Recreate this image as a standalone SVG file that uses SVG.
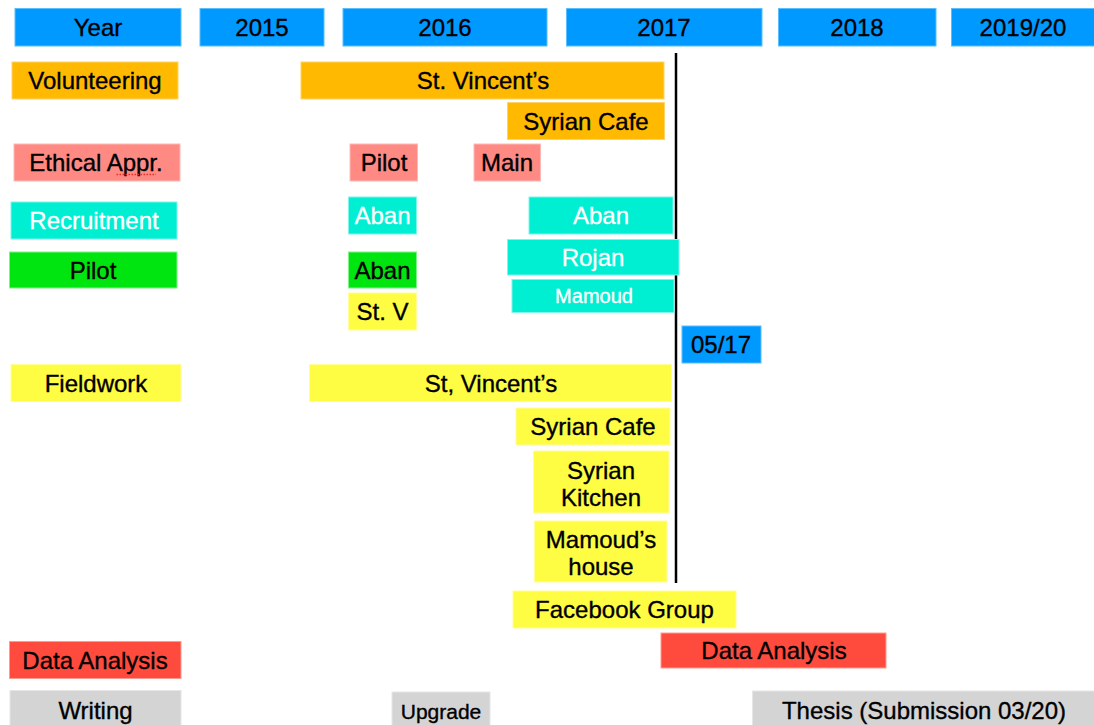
<svg xmlns="http://www.w3.org/2000/svg" width="1094" height="725" viewBox="0 0 1094 725">
<style>
text{font-family:"Liberation Sans",Arial,sans-serif;font-size:24px;text-anchor:middle;fill:#000;stroke:#000;stroke-width:0.35}
.w{fill:#fff;stroke:#fff}
.s{font-size:20px}
.u{font-size:21px}
.blue{fill:#0099FF;stroke:#5BBEFF;stroke-width:1}
.org{fill:#FFB900;stroke:#FFD466;stroke-width:1}
.pink{fill:#FF8A84;stroke:#FFB8B4;stroke-width:1}
.teal{fill:#00EED2;stroke:#7FF6E8;stroke-width:1}
.grn{fill:#00E50F;stroke:#7FF287;stroke-width:1}
.yel{fill:#FFFC44;stroke:#FFFD9A;stroke-width:1}
.red{fill:#FF4B3E;stroke:#FF9A92;stroke-width:1}
.gry{fill:#D4D4D4;stroke:#E6E6E6;stroke-width:1}
</style>
<rect width="1094" height="725" fill="#fff"/>
<g id="header">
<g id="h-year"><rect class="blue" x="15" y="8.5" width="166" height="37.5"/><text x="98" y="35.5">Year</text></g>
<g id="h-2015"><rect class="blue" x="200" y="8.5" width="124" height="37.5"/><text x="262" y="35.5">2015</text></g>
<g id="h-2016"><rect class="blue" x="343" y="8.5" width="204" height="37.5"/><text x="445" y="35.5">2016</text></g>
<g id="h-2017"><rect class="blue" x="566.5" y="8.5" width="195.5" height="37.5"/><text x="664" y="35.5">2017</text></g>
<g id="h-2018"><rect class="blue" x="778.5" y="8.5" width="157.5" height="37.5"/><text x="857" y="35.5">2018</text></g>
<g id="h-2019"><rect class="blue" x="951.5" y="8.5" width="145" height="37.5"/><text x="1023" y="35.5">2019/20</text></g>
</g>
<g id="connectors">
<line x1="676" y1="53" x2="676" y2="583" stroke="#000" stroke-width="2.5"/>
</g>
<g id="volunteering"><rect class="org" x="12" y="62" width="166" height="37"/><text x="95" y="89">Volunteering</text></g>
<g id="vol-stv"><rect class="org" x="301" y="62" width="363" height="37"/><text x="483" y="89">St. Vincent’s</text></g>
<g id="vol-cafe"><rect class="org" x="507.5" y="102.5" width="157" height="37"/><text x="586" y="130">Syrian Cafe</text></g>
<g id="ethical"><rect class="pink" x="14" y="144" width="166" height="37"/><text x="96" y="171">Ethical Appr.</text>
<path d="M116.5 174.5 L156 174.5" stroke="#E0302A" stroke-width="1.6" stroke-dasharray="1.6 1.4" fill="none"/></g>
<g id="eth-pilot"><rect class="pink" x="350" y="144" width="67.5" height="37"/><text x="384" y="171">Pilot</text></g>
<g id="eth-main"><rect class="pink" x="474" y="144" width="66.5" height="37"/><text x="507" y="171">Main</text></g>
<g id="recruitment"><rect class="teal" x="11" y="202" width="166" height="37"/><text class="w" x="94" y="229">Recruitment</text></g>
<g id="rec-aban1"><rect class="teal" x="348.5" y="197" width="68" height="37"/><text class="w" x="382.5" y="224">Aban</text></g>
<g id="rec-aban2"><rect class="teal" x="529" y="197" width="144" height="37"/><text class="w" x="601" y="224">Aban</text></g>
<g id="rec-rojan"><rect class="teal" x="507.5" y="239.5" width="171.5" height="35.5"/><text class="w" x="593" y="266">Rojan</text></g>
<g id="rec-mamoud"><rect class="teal" x="512" y="279.5" width="162" height="33"/><text class="w s" x="594" y="303">Mamoud</text></g>
<g id="pilot"><rect class="grn" x="9.5" y="252" width="167.5" height="36"/><text x="93" y="279">Pilot</text></g>
<g id="pilot-aban"><rect class="grn" x="348.5" y="252" width="68" height="36"/><text x="382.5" y="279">Aban</text></g>
<g id="pilot-stv"><rect class="yel" x="348.5" y="293" width="68" height="37"/><text x="382.5" y="320">St. V</text></g>
<g id="date-0517"><rect class="blue" x="682" y="326" width="79" height="37"/><text x="721" y="353">05/17</text></g>
<g id="fieldwork"><rect class="yel" x="11" y="364.5" width="170" height="37"/><text x="96" y="392">Fieldwork</text></g>
<g id="fw-stv"><rect class="yel" x="309.5" y="364.5" width="362" height="37"/><text x="491" y="392">St, Vincent’s</text></g>
<g id="fw-cafe"><rect class="yel" x="516" y="408" width="154" height="37"/><text x="593" y="435">Syrian Cafe</text></g>
<g id="fw-kitchen"><rect class="yel" x="533.5" y="451" width="135.5" height="62"/><text x="601" y="478.5">Syrian</text><text x="601" y="505.5">Kitchen</text></g>
<g id="fw-house"><rect class="yel" x="534.5" y="521" width="132.5" height="61"/><text x="601" y="547.5">Mamoud’s</text><text x="601" y="574.5">house</text></g>
<g id="fw-facebook"><rect class="yel" x="513" y="591" width="223" height="37"/><text x="624.5" y="618">Facebook Group</text></g>
<g id="analysis"><rect class="red" x="9.5" y="641.5" width="171.5" height="37"/><text x="95" y="669">Data Analysis</text></g>
<g id="analysis-bar"><rect class="red" x="661" y="633" width="225" height="35"/><text x="774" y="659">Data Analysis</text></g>
<g id="writing"><rect class="gry" x="10" y="690.5" width="171" height="40"/><text x="95.5" y="718.5">Writing</text></g>
<g id="upgrade"><rect class="gry" x="392" y="692" width="98" height="40"/><text class="u" x="441" y="719">Upgrade</text></g>
<g id="thesis"><rect class="gry" x="752.5" y="691" width="345" height="40"/><text x="924" y="718.5">Thesis (Submission 03/20)</text></g>
</svg>
